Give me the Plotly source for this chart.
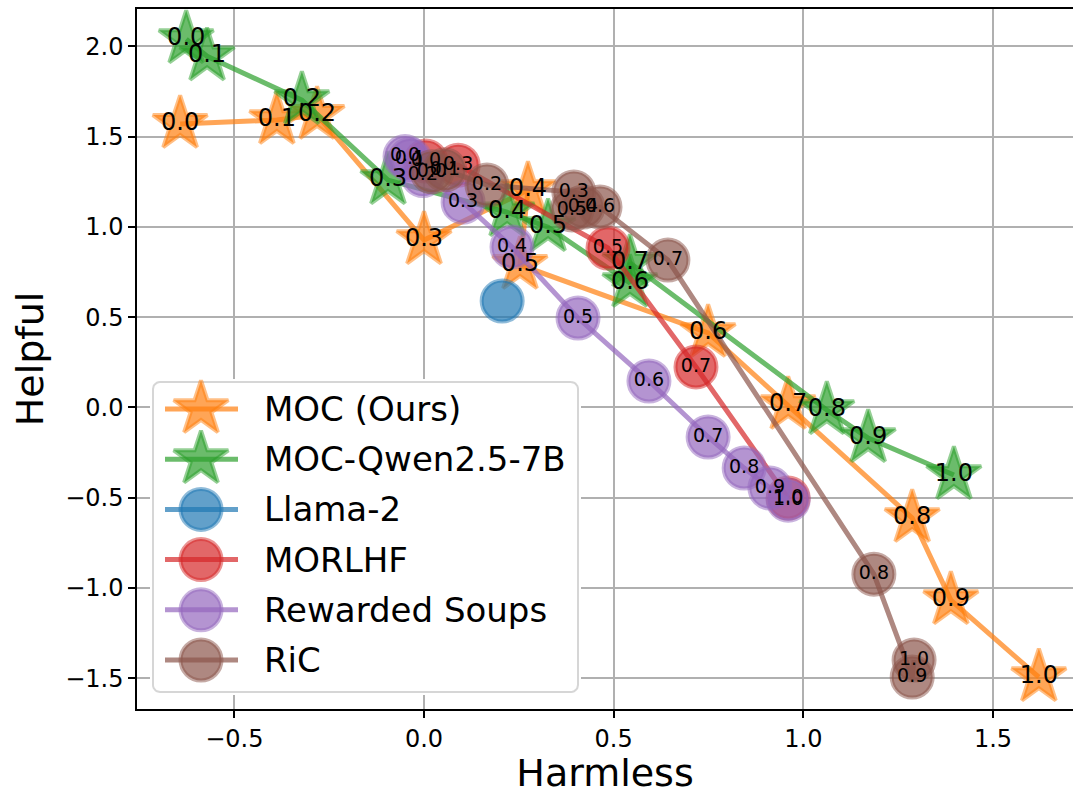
import numpy as np
import plotly.graph_objects as go

# ---------------- data ----------------
labels = ["0.0", "0.1", "0.2", "0.3", "0.4", "0.5", "0.6", "0.7", "0.8", "0.9", "1.0"]

moc_x = [-0.643, -0.388, -0.282, 0.000, 0.274, 0.253, 0.749, 0.960, 1.287, 1.389, 1.621]
moc_y = [1.570, 1.592, 1.620, 0.927, 1.204, 0.789, 0.412, 0.013, -0.613, -1.068, -1.495]

qwen_x = [-0.627, -0.572, -0.322, -0.095, 0.219, 0.327, 0.543, 0.543, 1.062, 1.171, 1.397]
qwen_y = [2.040, 1.945, 1.702, 1.259, 1.081, 0.998, 0.689, 0.800, -0.015, -0.170, -0.375]

llama_x = [0.206]
llama_y = [0.589]

morlhf_labels = ["0.0", "0.3", "0.5", "0.7", "1.0"]
morlhf_x = [0.005, 0.090, 0.485, 0.717, 0.960]
morlhf_y = [1.365, 1.342, 0.883, 0.224, -0.502]

soups_x = [-0.050, -0.037, -0.003, 0.103, 0.232, 0.406, 0.593, 0.749, 0.844, 0.912, 0.960]
soups_y = [1.390, 1.373, 1.284, 1.137, 0.888, 0.495, 0.146, -0.164, -0.336, -0.447, -0.514]

ric_x = [0.021, 0.055, 0.166, 0.395, 0.419, 0.390, 0.464, 0.643, 1.186, 1.287, 1.292]
ric_y = [1.305, 1.316, 1.232, 1.193, 1.110, 1.094, 1.110, 0.816, -0.924, -1.494, -1.400]

series_names = ["MOC (Ours)", "MOC-Qwen2.5-7B", "Llama-2", "MORLHF", "Rewarded Soups", "RiC"]

x_ticks = [-0.5, 0.0, 0.5, 1.0, 1.5]
x_tick_text = ["\u22120.5", "0.0", "0.5", "1.0", "1.5"]
y_ticks = [-1.5, -1.0, -0.5, 0.0, 0.5, 1.0, 1.5, 2.0]
y_tick_text = ["\u22121.5", "\u22121.0", "\u22120.5", "0.0", "0.5", "1.0", "1.5", "2.0"]

# ---------------- styles ----------------
FONT = "DejaVu Sans"
rgb = {
    "MOC (Ours)": "255,127,14",
    "MOC-Qwen2.5-7B": "44,160,44",
    "Llama-2": "31,119,180",
    "MORLHF": "214,39,40",
    "Rewarded Soups": "148,103,189",
    "RiC": "140,86,75",
}
symbol = {"MOC (Ours)": "star", "MOC-Qwen2.5-7B": "star"}

series = [
    ("MOC (Ours)", moc_x, moc_y, labels),
    ("MOC-Qwen2.5-7B", qwen_x, qwen_y, labels),
    ("Llama-2", llama_x, llama_y, None),
    ("MORLHF", morlhf_x, morlhf_y, morlhf_labels),
    ("Rewarded Soups", soups_x, soups_y, labels),
    ("RiC", ric_x, ric_y, labels),
]

MSIZE = 41


def marker_style(name):
    c = rgb[name]
    return dict(symbol=symbol.get(name, "circle"), size=MSIZE,
                color=f"rgba({c},0.7)",
                line=dict(color=f"rgba({c},0.5)", width=4))


fig = go.Figure()

for name, xs, ys, lab in series:
    fig.add_trace(go.Scatter(
        x=xs, y=ys, mode="lines+markers", name=name,
        line=dict(color=f"rgba({rgb[name]},0.7)", width=5),
        marker=marker_style(name), showlegend=False, hoverinfo="skip",
        xaxis="x", yaxis="y"))

for name, xs, ys, lab in series:
    if lab is None:
        continue
    big = name in symbol
    fig.add_trace(go.Scatter(
        x=xs, y=ys, mode="text", text=lab, textposition="middle center",
        textfont=dict(family=FONT, size=24 if big else 19, color="black"),
        showlegend=False, hoverinfo="skip", xaxis="x", yaxis="y"))

# ---------------- manual legend (own axes, box units) ----------------
BOX_W, BOX_H, R = 425, 310, 7
t = np.linspace(0, np.pi / 2, 8)
corners = [
    (BOX_W - R, R, -np.pi / 2),
    (BOX_W - R, BOX_H - R, 0.0),
    (R, BOX_H - R, np.pi / 2),
    (R, R, np.pi),
]
px, py = [], []
for cx, cy, a0 in corners:
    px += list(cx + R * np.cos(a0 + t))
    py += list(cy + R * np.sin(a0 + t))
px.append(px[0]); py.append(py[0])
fig.add_trace(go.Scatter(
    x=px, y=py, mode="lines", fill="toself",
    fillcolor="rgba(255,255,255,0.8)",
    line=dict(color="rgba(204,204,204,0.8)", width=2),
    showlegend=False, hoverinfo="skip", xaxis="x2", yaxis="y2"))

for i, name in enumerate(series_names):
    row_y = 27 + 50.2 * i
    fig.add_trace(go.Scatter(
        x=[12, 48, 85], y=[row_y] * 3, mode="lines",
        line=dict(color=f"rgba({rgb[name]},0.7)", width=5),
        showlegend=False, hoverinfo="skip", xaxis="x2", yaxis="y2"))
    fig.add_trace(go.Scatter(
        x=[48], y=[row_y], mode="markers", marker=marker_style(name),
        showlegend=False, hoverinfo="skip", xaxis="x2", yaxis="y2"))
    fig.add_annotation(
        x=109, y=row_y, xref="x2", yref="y2", text=name, showarrow=False,
        xanchor="left", yanchor="middle",
        font=dict(family=FONT, size=34, color="black"))

axis_common = dict(
    showgrid=True, gridcolor="#b0b0b0", gridwidth=1.5, zeroline=False,
    showline=True, linecolor="black", linewidth=1.5,
    ticks="outside", ticklen=7, tickwidth=1.5, tickcolor="black",
    tickfont=dict(family=FONT, size=24, color="black"),
)

fig.update_layout(
    width=1073, height=795,
    margin=dict(l=137, r=0, t=9, b=86),
    paper_bgcolor="white", plot_bgcolor="white",
    font=dict(family=FONT, color="black"),
    showlegend=False,
    xaxis=dict(range=[-0.7567, 1.711], tickvals=x_ticks, ticktext=x_tick_text,
               mirror=True, domain=[0, 1], anchor="y",
               title=dict(text="Harmless", font=dict(family=FONT, size=38, color="black"), standoff=16),
               **axis_common),
    yaxis=dict(range=[-1.671, 2.207], tickvals=y_ticks, ticktext=y_tick_text,
               mirror=False, domain=[0, 1], anchor="x",
               title=dict(text="Helpful", font=dict(family=FONT, size=38, color="black"), standoff=10),
               **axis_common),
    xaxis2=dict(domain=[0.01389, 0.47436], range=[-3, 428], anchor="y2",
                visible=False, fixedrange=True),
    yaxis2=dict(domain=[0.02, 0.4714], range=[313, -3], anchor="x2",
                visible=False, fixedrange=True),
)

fig.write_html("out.html")
